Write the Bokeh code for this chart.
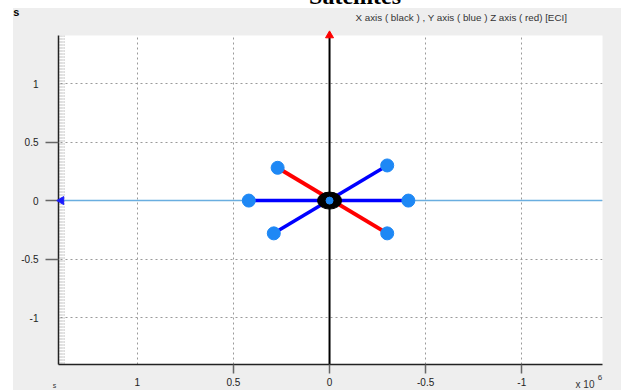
from bokeh.plotting import figure
from bokeh.models import Range1d, FixedTicker, Span, Label
from bokeh.embed import file_html
from bokeh.resources import INLINE

# ---- data (x values in units of 1e6) ----
tick_values = [1, 0.5, 0, -0.5, -1]
tick_marks_x = [0.5, 0, -0.5, -1]
tick_marks_y = [0.5, 0, -0.5]
edge_grid_x = [1.402, 1.392, 1.381]

sat_x = [0.42, -0.41, -0.30, 0.29, 0.27, -0.30]
sat_y = [0.00, 0.00, 0.30, -0.28, 0.28, -0.28]

blue_orbit_xs = [[0.42, -0.41], [0.29, -0.30]]
blue_orbit_ys = [[0.00, 0.00], [-0.28, 0.30]]
red_orbit_xs = [[0.27, -0.30]]
red_orbit_ys = [[0.28, -0.28]]

earth_x = [0.0]
earth_y = [0.0]
x_lim = (1.41, -1.42)
y_lim = (-1.40, 1.41)

title_text = "Satellites"
legend_text = "X axis  ( black ) , Y axis ( blue ) Z axis ( red) [ECI]"

# ---- layout constants ----
W, H = 613, 420
BL, BR, BT, BB = 50, 19, 65, 26

p = figure(width=W, height=H,
           x_range=Range1d(*x_lim), y_range=Range1d(*y_lim),
           output_backend="svg", toolbar_location=None,
           min_border_left=BL, min_border_right=BR,
           min_border_top=BT, min_border_bottom=BB,
           margin=(-30, 0, 0, 8),
           styles={"background": "linear-gradient(to right, white 5px, transparent 5px), linear-gradient(white 38px, #eeeeee 38px)"})
p.border_fill_color = None
p.background_fill_color = "white"
p.outline_line_color = None

for ax, minor, standoff, tick_len in ((p.xaxis[0], tick_marks_x, 4, 9), (p.yaxis[0], tick_marks_y, 7, 13)):
    ax.ticker = FixedTicker(ticks=tick_values, minor_ticks=minor)
    ax.major_label_overrides = {-0.5: "-0.5", -1: "-1", 0.5: "0.5", 1: "1", 0: "0"}
    ax.major_tick_out = 0
    ax.major_tick_in = 0
    ax.minor_tick_in = 0
    ax.minor_tick_out = tick_len
    ax.minor_tick_line_color = "#666666"
    ax.minor_tick_line_width = 1.5
    ax.major_label_standoff = standoff
    ax.major_label_text_font = "Liberation Sans"
    ax.major_label_text_font_size = "10px"
    ax.major_label_text_color = "#222222"
    ax.axis_line_color = "#222222"
    ax.axis_line_width = 1.5

p.grid.grid_line_color = "#9a9a9a"
p.grid.grid_line_dash = "2 3"

for gx in edge_grid_x:
    p.add_layout(Span(location=gx, dimension="height", line_color="#8a8a8a",
                      line_dash="1 2", line_width=1, level="underlay"))

p.add_layout(Span(location=0, dimension="width", line_color="#6aaee0", line_width=1.5, level="underlay"))
p.add_layout(Span(location=0, dimension="height", line_color="black", line_width=2, level="underlay"))

p.multi_line(xs=red_orbit_xs, ys=red_orbit_ys, line_color="red", line_width=4)
p.multi_line(xs=blue_orbit_xs, ys=blue_orbit_ys, line_color="#0000ff", line_width=3.5)
p.ellipse(x=earth_x, y=earth_y, width=0.125, height=0.145, fill_color="black", line_color="black")
p.scatter(x=sat_x, y=sat_y, size=13, fill_color="#1e88f5", line_color="#1e88f5")
p.scatter(x=earth_x, y=earth_y, size=7, fill_color="#1e88f5", line_color="#1e88f5")

# ---- transparent overlay with the same data-to-pixel mapping, covering the whole canvas ----
ppx = (W - BL - BR) / (x_lim[0] - x_lim[1])
ppy = (H - BT - BB) / (y_lim[1] - y_lim[0])
ov = figure(width=W, height=H,
            x_range=Range1d(x_lim[0] + BL / ppx, x_lim[1] - BR / ppx),
            y_range=Range1d(y_lim[0] - BB / ppy, y_lim[1] + BT / ppy),
            x_axis_type=None, y_axis_type=None,
            output_backend="svg", toolbar_location=None, min_border=0,
            styles={"position": "absolute", "top": "-30px", "left": "8px"})
ov.border_fill_color = None
ov.background_fill_color = None
ov.outline_line_color = None
ov.grid.visible = False

# axis arrowheads
ov.scatter(x=earth_x, y=[y_lim[1]], marker="triangle", size=8,
           fill_color="red", line_color="red")
ov.scatter(x=[x_lim[0] - 0.015], y=earth_y, marker="triangle", angle=1.5708,
           size=8, fill_color="#1a1aff", line_color="#1a1aff")

def add_text(x, y, text, size, font="Liberation Sans", style="normal", color="#333333", align="left"):
    ov.add_layout(Label(x=x, y=y, text=text, text_align=align, text_baseline="alphabetic",
                        text_font=font, text_font_style=style,
                        text_font_size=size, text_color=color))

add_text(-0.133, 1.745, title_text, "24px", font="Liberation Serif", style="bold",
         color="black", align="center")
add_text(-0.135, 1.562, legend_text, "9.8px")
add_text(1.646, 1.607, "s", "11px", style="bold", color="black")
add_text(1.44, -1.58, "s", "7px")
add_text(-1.28, -1.572, "x 10", "10px")
add_text(-1.395, -1.515, "6", "8px")

open("out.html", "w").write(file_html([p, ov], INLINE))
